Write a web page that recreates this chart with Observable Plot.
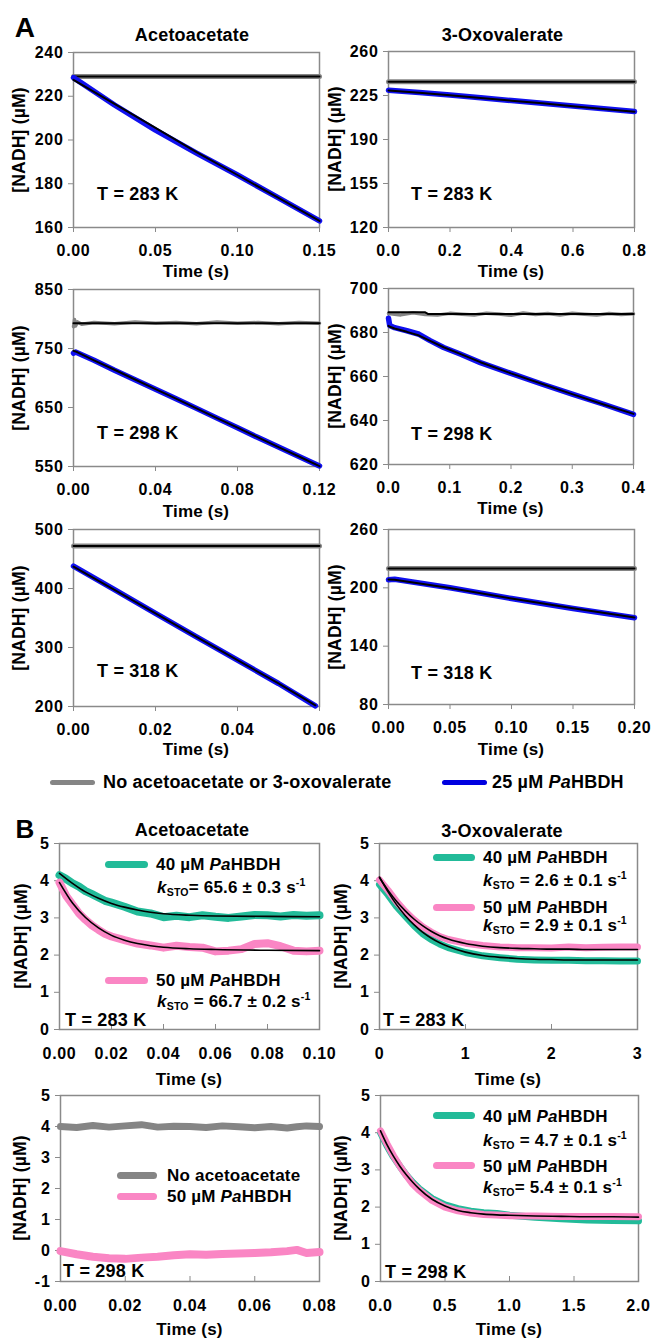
<!DOCTYPE html>
<html><head><meta charset="utf-8">
<script src="https://cdn.jsdelivr.net/npm/d3@7"></script>
<script src="https://cdn.jsdelivr.net/npm/@observablehq/plot@0.6"></script>
<style>
body{margin:0;background:#fff;}
#fig{position:relative;width:655px;height:1340px;font-family:"Liberation Sans",Arial,sans-serif;font-weight:bold;color:#000;overflow:hidden;background:#fff;}
.lbl{position:absolute;white-space:nowrap;line-height:1;letter-spacing:0.2px;}
.lbl sub{font-size:0.62em;vertical-align:-0.3em;line-height:0;}
.lbl sup{font-size:0.62em;vertical-align:0.6em;line-height:0;}
.sw{position:absolute;}
.pbox{position:absolute;}
</style></head><body><div id="fig"></div>
<script>
// ---------- colours ----------
const cBlue = "#1010f0", cGray = "#858585", cGreen = "#22bb99", cPink = "#fa86c4", cFit = "#000";

// ---------- Panel A tick values ----------
const a1XTicks = [0, 0.05, 0.10, 0.15], a1YTicks = [160, 180, 200, 220, 240];
const a2XTicks = [0, 0.2, 0.4, 0.6, 0.8], a2YTicks = [120, 155, 190, 225, 260];
const a3XTicks = [0, 0.04, 0.08, 0.12], a3YTicks = [550, 650, 750, 850];
const a4XTicks = [0, 0.1, 0.2, 0.3, 0.4], a4YTicks = [620, 640, 660, 680, 700];
const a5XTicks = [0, 0.02, 0.04, 0.06], a5YTicks = [200, 300, 400, 500];
const a6XTicks = [0, 0.05, 0.10, 0.15, 0.20], a6YTicks = [80, 140, 200, 260];
// ---------- Panel B tick values ----------
const b1XTicks = [0, 0.02, 0.04, 0.06, 0.08, 0.10], b1YTicks = [0, 1, 2, 3, 4, 5];
const b2XTicks = [0, 1, 2, 3], b2YTicks = [0, 1, 2, 3, 4, 5];
const b3XTicks = [0, 0.02, 0.04, 0.06, 0.08], b3YTicks = [-1, 0, 1, 2, 3, 4, 5];
const b4XTicks = [0, 0.5, 1.0, 1.5, 2.0], b4YTicks = [0, 1, 2, 3, 4, 5];

// ---------- A1: acetoacetate 283 K ----------
const a1Time = [0, 0.025, 0.05, 0.075, 0.10, 0.125, 0.15];
const a1Enzyme = [228.5, 216, 204.5, 194, 184, 173.5, 163];
const a1Fit = [227.5, 216.5, 205.5, 194.5, 184, 173.5, 163];
const a1CtrlTime = [0, 0.15];
const a1Ctrl = [229, 229];
// ---------- A2: 3-oxovalerate 283 K ----------
const a2Time = [0, 0.1, 0.2, 0.3, 0.4, 0.5, 0.6, 0.7, 0.8];
const a2Enzyme = [229.2, 227.3, 225.4, 223.3, 221, 218.9, 216.6, 214.4, 212.2];
const a2Fit = [229, 227.1, 225.2, 223.1, 220.9, 218.8, 216.5, 214.3, 212.1];
const a2CtrlTime = [0, 0.8];
const a2Ctrl = [236, 236];
// ---------- A3: acetoacetate 298 K ----------
const a3Time = [0, 0.001, 0.01, 0.02, 0.03, 0.04, 0.05, 0.06, 0.07, 0.08, 0.09, 0.10, 0.11, 0.12];
const a3Enzyme = [742, 744, 730, 713, 697, 681, 665, 648.5, 632, 615.5, 599, 583, 567, 551];
const a3Fit = [746, 745, 730, 714, 697.5, 681, 665, 648.5, 632, 616, 599.5, 583, 567, 550.5];
const a3CtrlTime = [0, 0.0005, 0.001, 0.002, 0.004, 0.01, 0.02, 0.03, 0.04, 0.05, 0.06, 0.07, 0.08, 0.09, 0.10, 0.11, 0.12];
const a3Ctrl = [787, 799, 788, 795, 791, 794, 792, 795, 793, 794, 792, 795, 793, 794, 792, 794, 793];
const a3CtrlFitTime = [0, 0.12];
const a3CtrlFit = [793, 793];
// ---------- A4: 3-oxovalerate 298 K ----------
const a4Time = [0, 0.002, 0.01, 0.03, 0.05, 0.068, 0.09, 0.117, 0.15, 0.2, 0.25, 0.3, 0.35, 0.4];
const a4Enzyme = [686.5, 683.2, 682.2, 680.8, 679.2, 676.3, 673.2, 670.2, 666.3, 661.4, 656.6, 652, 647.5, 642.8];
const a4Fit = [683, 682.6, 681.8, 680.3, 678.6, 676.2, 673.3, 670.3, 666.5, 661.4, 656.7, 652, 647.4, 643];
const a4CtrlTime = [0, 0.02, 0.04, 0.06, 0.08, 0.1, 0.12, 0.14, 0.16, 0.18, 0.2, 0.22, 0.24, 0.26, 0.28, 0.3, 0.32, 0.34, 0.36, 0.38, 0.4];
const a4Ctrl = [688.6, 688.0, 689.0, 688.2, 687.9, 688.7, 688.3, 688.0, 688.8, 688.4, 687.8, 688.9, 688.2, 688.6, 688.0, 688.7, 688.3, 687.9, 688.6, 688.2, 688.5];
const a4CtrlFitTime = [0, 0.06, 0.065, 0.4];
const a4CtrlFit = [689.2, 689.2, 688.4, 688.4];
// ---------- A5: acetoacetate 318 K ----------
const a5Time = [0, 0.01, 0.02, 0.03, 0.04, 0.05, 0.059];
const a5Enzyme = [438, 398, 358, 318, 278.5, 239, 201];
const a5Fit = [437, 397.5, 358, 318, 278.5, 239, 202];
const a5CtrlTime = [0, 0.06];
const a5Ctrl = [472, 472];
// ---------- A6: 3-oxovalerate 318 K ----------
const a6Time = [0, 0.005, 0.05, 0.1, 0.15, 0.2];
const a6Enzyme = [208.3, 208.8, 200, 189, 178.8, 169.3];
const a6Fit = [208.6, 208.3, 199.8, 189, 179, 169.5];
const a6CtrlTime = [0, 0.2];
const a6Ctrl = [219.8, 219.8];

// ---------- B1: acetoacetate 283 K ----------
const b1Time = [0, 0.0025, 0.005, 0.0075, 0.01, 0.0125, 0.015, 0.0175, 0.02, 0.025, 0.03, 0.035, 0.04, 0.045, 0.05, 0.055, 0.06, 0.065, 0.07, 0.075, 0.08, 0.085, 0.09, 0.095, 0.1];
const b1Green = [4.15, 4.05, 3.93, 3.84, 3.72, 3.64, 3.55, 3.46, 3.41, 3.3, 3.17, 3.12, 3.02, 3.06, 3.02, 3.07, 3.03, 3.0, 3.04, 3.08, 3.07, 3.04, 3.08, 3.06, 3.07];
const b1Pink = [3.95, 3.6, 3.36, 3.12, 2.95, 2.8, 2.68, 2.57, 2.5, 2.4, 2.31, 2.26, 2.2, 2.25, 2.22, 2.2, 2.1, 2.12, 2.16, 2.3, 2.32, 2.24, 2.12, 2.1, 2.12];
const b1FitTime = [0, 0.005, 0.01, 0.015, 0.02, 0.025, 0.03, 0.035, 0.04, 0.05, 0.06, 0.08, 0.1];
const b1GreenFit = [4.2, 3.93, 3.7, 3.53, 3.39, 3.29, 3.21, 3.15, 3.11, 3.07, 3.05, 3.04, 3.03];
const b1PinkFit = [3.95, 3.4, 3.01, 2.73, 2.53, 2.4, 2.31, 2.25, 2.21, 2.17, 2.15, 2.13, 2.12];
// ---------- B2: 3-oxovalerate 283 K ----------
const b2Time = [0, 0.1, 0.2, 0.3, 0.4, 0.5, 0.6, 0.7, 0.8, 1.0, 1.2, 1.4, 1.6, 1.8, 2.0, 2.2, 2.4, 2.6, 2.8, 3.0];
const b2Green = [3.9, 3.62, 3.3, 3.05, 2.8, 2.58, 2.42, 2.3, 2.2, 2.07, 1.98, 1.93, 1.89, 1.87, 1.86, 1.86, 1.85, 1.85, 1.84, 1.84];
const b2Pink = [4.02, 3.74, 3.43, 3.17, 2.95, 2.76, 2.62, 2.5, 2.42, 2.32, 2.26, 2.22, 2.2, 2.2, 2.19, 2.22, 2.2, 2.21, 2.22, 2.22];
const b2GreenFit = [4.1, 3.7, 3.35, 3.06, 2.82, 2.62, 2.46, 2.33, 2.23, 2.08, 1.99, 1.94, 1.91, 1.89, 1.88, 1.87, 1.87, 1.87, 1.87, 1.87];
const b2PinkFit = [4.08, 3.74, 3.44, 3.19, 2.97, 2.79, 2.64, 2.52, 2.43, 2.31, 2.24, 2.2, 2.18, 2.17, 2.16, 2.16, 2.15, 2.15, 2.15, 2.15];
// ---------- B3: acetoacetate 298 K ----------
const b3Time = [0, 0.005, 0.01, 0.015, 0.02, 0.025, 0.03, 0.035, 0.04, 0.045, 0.05, 0.055, 0.06, 0.065, 0.07, 0.073, 0.076, 0.08];
const b3Gray = [4.0, 3.97, 4.03, 3.98, 4.02, 4.06, 3.98, 4.01, 4.0, 3.97, 4.02, 3.99, 3.96, 4.0, 3.95, 3.99, 4.02, 4.0];
const b3Pink = [-0.02, -0.12, -0.2, -0.25, -0.27, -0.23, -0.2, -0.15, -0.12, -0.14, -0.11, -0.1, -0.08, -0.06, -0.02, 0.02, -0.08, -0.05];
// ---------- B4: 3-oxovalerate 298 K ----------
const b4Time = [0, 0.05, 0.1, 0.15, 0.2, 0.25, 0.3, 0.4, 0.5, 0.6, 0.7, 0.8, 0.9, 1.0, 1.2, 1.4, 1.6, 1.8, 2.0];
const b4Green = [4.0, 3.65, 3.35, 3.1, 2.86, 2.66, 2.49, 2.23, 2.06, 1.96, 1.89, 1.85, 1.83, 1.78, 1.73, 1.69, 1.65, 1.64, 1.63];
const b4Pink = [4.05, 3.7, 3.38, 3.1, 2.85, 2.62, 2.45, 2.18, 2.0, 1.9, 1.84, 1.8, 1.79, 1.77, 1.76, 1.75, 1.75, 1.75, 1.74];
const b4Fit = [4.05, 3.68, 3.37, 3.1, 2.87, 2.67, 2.49, 2.21, 2.03, 1.91, 1.85, 1.81, 1.79, 1.78, 1.76, 1.75, 1.74, 1.74, 1.73];

// ---------- helpers ----------
const fig = document.getElementById("fig");
const fix = n => d => d.toFixed(n);
const FONT = '"Liberation Sans", Arial, sans-serif';

function addText(html, x, y, {size = 17, anchor = "middle", rotate = 0} = {}) {
  const el = document.createElement("div");
  el.className = "lbl";
  el.innerHTML = html;
  el.style.fontSize = size + "px";
  el.style.left = x + "px";
  el.style.top = y + "px";
  const tx = anchor === "middle" ? "-50%" : "0";
  el.style.transform = `translate(${tx},-50%)` + (rotate ? ` rotate(${rotate}deg)` : "");
  fig.appendChild(el);
}
function addSwatch(x0, x1, y, color, h = 6) {
  const el = document.createElement("div");
  el.className = "sw";
  Object.assign(el.style, {left: x0 + "px", width: (x1 - x0) + "px", top: (y - h / 2) + "px", height: h + "px", background: color, borderRadius: (h / 2) + "px"});
  fig.appendChild(el);
}
function line(x, y, color, w, curve = "linear") {
  return Plot.lineY(y, {x, stroke: color, strokeWidth: w, curve, strokeLinecap: "round", strokeLinejoin: "round"});
}

function panel(p) {
  const [x0, y0, x1, y1] = p.frame;
  const ML = 60, MT = 12, MR = 12, MB = 36;
  const axisStyle = {stroke: "#8a8a8a", fill: "#000", label: null, fontSize: 16, fontWeight: "bold"};
  const xAxes = p.inTicks
    ? [Plot.axisX({ticks: p.xTicks, tickFormat: p.xFmt, tickSize: 0, tickPadding: 18, ...axisStyle}),
       Plot.axisX({ticks: p.xTicks, tickSize: -5, text: null, stroke: "#8a8a8a", label: null})]
    : [Plot.axisX({ticks: p.xTicks, tickFormat: p.xFmt, tickSize: 5, tickPadding: 12, ...axisStyle})];
  const svg = Plot.plot({
    width: x1 - x0 + ML + MR, height: y1 - y0 + MT + MB,
    marginLeft: ML, marginTop: MT, marginRight: MR, marginBottom: MB,
    x: {domain: p.xDomain}, y: {domain: p.yDomain},
    style: {fontFamily: FONT, fontSize: "16px", fontWeight: "bold", color: "#000", background: "transparent", overflow: "visible", letterSpacing: "0.7px"},
    marks: [
      Plot.frame({stroke: "#8a8a8a", strokeWidth: 1.5}),
      ...xAxes,
      Plot.axisY({ticks: p.yTicks, tickFormat: p.yFmt || (d => String(d)), tickSize: 5, tickPadding: 5, ...axisStyle}),
      ...p.marks
    ]
  });
  const box = document.createElement("div");
  box.className = "pbox";
  box.style.left = (x0 - ML) + "px";
  box.style.top = (y0 - MT) + "px";
  box.appendChild(svg);
  fig.appendChild(box);
  // axis titles
  addText("Time (s)", (x0 + x1) / 2, p.xLabelY, {size: 17});
  addText("[NADH] (&micro;M)", p.yLabelX, (y0 + y1) / 2, {size: 17.5, rotate: -90});
  addText(p.temp, p.tempPos[0], p.tempPos[1], {size: 18, anchor: "start"});
}

// ---------- Panel A ----------
panel({frame: [73, 52, 319, 227], xDomain: [0, 0.15], xTicks: a1XTicks, xFmt: fix(2), yDomain: [160, 240], yTicks: a1YTicks,
  xLabelY: 271, yLabelX: 20, temp: "T = 283 K", tempPos: [97, 194],
  marks: [line(a1CtrlTime, a1Ctrl, cGray, 5), line(a1CtrlTime, a1Ctrl, cFit, 2),
          line(a1Time, a1Enzyme, cBlue, 5.5), line(a1Time, a1Fit, cFit, 2)]});
panel({frame: [388, 51, 634, 227], xDomain: [0, 0.8], xTicks: a2XTicks, xFmt: fix(1), yDomain: [120, 260], yTicks: a2YTicks,
  xLabelY: 271, yLabelX: 336, temp: "T = 283 K", tempPos: [411, 193.5],
  marks: [line(a2CtrlTime, a2Ctrl, cGray, 5), line(a2CtrlTime, a2Ctrl, cFit, 2),
          line(a2Time, a2Enzyme, cBlue, 5.5), line(a2Time, a2Fit, cFit, 2)]});
panel({frame: [73, 289, 319, 466], xDomain: [0, 0.12], xTicks: a3XTicks, xFmt: fix(2), yDomain: [550, 850], yTicks: a3YTicks,
  xLabelY: 511, yLabelX: 20, temp: "T = 298 K", tempPos: [97, 433],
  marks: [line(a3CtrlTime, a3Ctrl, cGray, 3.5), line(a3CtrlFitTime, a3CtrlFit, cFit, 2),
          line(a3Time, a3Enzyme, cBlue, 5.5), line(a3Time, a3Fit, cFit, 2)]});
panel({frame: [388, 288, 633, 464], xDomain: [0, 0.4], xTicks: a4XTicks, xFmt: fix(1), yDomain: [620, 700], yTicks: a4YTicks,
  xLabelY: 508, yLabelX: 336, temp: "T = 298 K", tempPos: [411, 433.5],
  marks: [line(a4CtrlTime, a4Ctrl, cGray, 3.5), line(a4CtrlFitTime, a4CtrlFit, cFit, 2),
          line(a4Time, a4Enzyme, cBlue, 5.5), line(a4Time, a4Fit, cFit, 2)]});
panel({frame: [73, 529, 319, 706], xDomain: [0, 0.06], xTicks: a5XTicks, xFmt: fix(2), yDomain: [200, 500], yTicks: a5YTicks,
  xLabelY: 749, yLabelX: 20, temp: "T = 318 K", tempPos: [97, 671],
  marks: [line(a5CtrlTime, a5Ctrl, cGray, 5), line(a5CtrlTime, a5Ctrl, cFit, 2),
          line(a5Time, a5Enzyme, cBlue, 5.5), line(a5Time, a5Fit, cFit, 2)]});
panel({frame: [388, 529, 634, 704], xDomain: [0, 0.2], xTicks: a6XTicks, xFmt: fix(2), yDomain: [80, 260], yTicks: a6YTicks,
  xLabelY: 748.5, yLabelX: 336, temp: "T = 318 K", tempPos: [411, 673],
  marks: [line(a6CtrlTime, a6Ctrl, cGray, 5), line(a6CtrlTime, a6Ctrl, cFit, 2),
          line(a6Time, a6Enzyme, cBlue, 5.5), line(a6Time, a6Fit, cFit, 2)]});

addText("A", 25, 28, {size: 28});
addText("Acetoacetate", 192, 35, {size: 18});
addText("3-Oxovalerate", 502.5, 35, {size: 18});
// Panel A legend
addSwatch(50, 95, 782, cGray, 5);
addText("No acetoacetate or 3-oxovalerate", 103, 782, {size: 18, anchor: "start"});
addSwatch(442, 487, 782, "#0000e0", 5);
addText("25 &micro;M <i>Pa</i>HBDH", 492, 782, {size: 18, anchor: "start"});

// ---------- Panel B ----------
panel({frame: [59, 843, 319, 1029], xDomain: [0, 0.1], xTicks: b1XTicks, xFmt: fix(2), yDomain: [0, 5], yTicks: b1YTicks, inTicks: true,
  xLabelY: 1079, yLabelX: 21.5, temp: "T = 283 K", tempPos: [65, 1020],
  marks: [line(b1Time, b1Green, cGreen, 8), line(b1Time, b1Pink, cPink, 8),
          line(b1FitTime, b1GreenFit, cFit, 1.6, "monotone-x"), line(b1FitTime, b1PinkFit, cFit, 1.6, "monotone-x")]});
panel({frame: [379, 843, 637, 1029], xDomain: [0, 3], xTicks: b2XTicks, xFmt: fix(0), yDomain: [0, 5], yTicks: b2YTicks, inTicks: true,
  xLabelY: 1079, yLabelX: 342, temp: "T = 283 K", tempPos: [383, 1020],
  marks: [line(b2Time, b2Green, cGreen, 7), line(b2Time, b2Pink, cPink, 7),
          line(b2Time, b2GreenFit, cFit, 1.6, "monotone-x"), line(b2Time, b2PinkFit, cFit, 1.6, "monotone-x")]});
panel({frame: [60, 1095, 319, 1281], xDomain: [0, 0.08], xTicks: b3XTicks, xFmt: fix(2), yDomain: [-1, 5], yTicks: b3YTicks, inTicks: true,
  xLabelY: 1329, yLabelX: 21, temp: "T = 298 K", tempPos: [63, 1271],
  marks: [line(b3Time, b3Gray, cGray, 7), line(b3Time, b3Pink, cPink, 8)]});
panel({frame: [380, 1095, 638, 1281], xDomain: [0, 2], xTicks: b4XTicks, xFmt: fix(1), yDomain: [0, 5], yTicks: b4YTicks, inTicks: true,
  xLabelY: 1329, yLabelX: 342, temp: "T = 298 K", tempPos: [385, 1272],
  marks: [line(b4Time, b4Green, cGreen, 7), line(b4Time, b4Pink, cPink, 7),
          line(b4Time, b4Fit, cFit, 1.6, "monotone-x")]});

addText("B", 25, 829, {size: 26});
addText("Acetoacetate", 192, 830, {size: 18});
addText("3-Oxovalerate", 502, 831, {size: 18});

// B1 legend
addSwatch(105, 148, 864, cGreen, 7);
addText("40 &micro;M <i>Pa</i>HBDH", 156, 864, {size: 17, anchor: "start"});
addText("<i>k</i><sub>STO</sub>= 65.6 &plusmn; 0.3 s<sup>-1</sup>", 157, 887, {size: 17, anchor: "start"});
addSwatch(105, 148, 980, cPink, 7);
addText("50 &micro;M <i>Pa</i>HBDH", 156, 980, {size: 17, anchor: "start"});
addText("<i>k</i><sub>STO</sub> = 66.7 &plusmn; 0.2 s<sup>-1</sup>", 157, 1001, {size: 17, anchor: "start"});
// B2 legend
addSwatch(433, 475, 857, cGreen, 7);
addText("40 &micro;M <i>Pa</i>HBDH", 483, 857, {size: 17, anchor: "start"});
addText("<i>k</i><sub>STO</sub> = 2.6 &plusmn; 0.1 s<sup>-1</sup>", 483, 880, {size: 17, anchor: "start"});
addSwatch(433, 475, 907, cPink, 7);
addText("50 &micro;M <i>Pa</i>HBDH", 483, 907, {size: 17, anchor: "start"});
addText("<i>k</i><sub>STO</sub> = 2.9 &plusmn; 0.1 s<sup>-1</sup>", 483, 925, {size: 17, anchor: "start"});
// B3 legend
addSwatch(117, 157, 1175, cGray, 7);
addText("No acetoacetate", 167, 1175, {size: 17, anchor: "start"});
addSwatch(117, 157, 1196, cPink, 7);
addText("50 &micro;M <i>Pa</i>HBDH", 167, 1196, {size: 17, anchor: "start"});
// B4 legend
addSwatch(433, 475, 1115, cGreen, 7);
addText("40 &micro;M <i>Pa</i>HBDH", 483, 1116, {size: 17, anchor: "start"});
addText("<i>k</i><sub>STO</sub> = 4.7 &plusmn; 0.1 s<sup>-1</sup>", 483, 1140, {size: 17, anchor: "start"});
addSwatch(433, 475, 1165, cPink, 7);
addText("50 &micro;M <i>Pa</i>HBDH", 483, 1166, {size: 17, anchor: "start"});
addText("<i>k</i><sub>STO</sub>= 5.4 &plusmn; 0.1 s<sup>-1</sup>", 483, 1187, {size: 17, anchor: "start"});
</script></body></html>
